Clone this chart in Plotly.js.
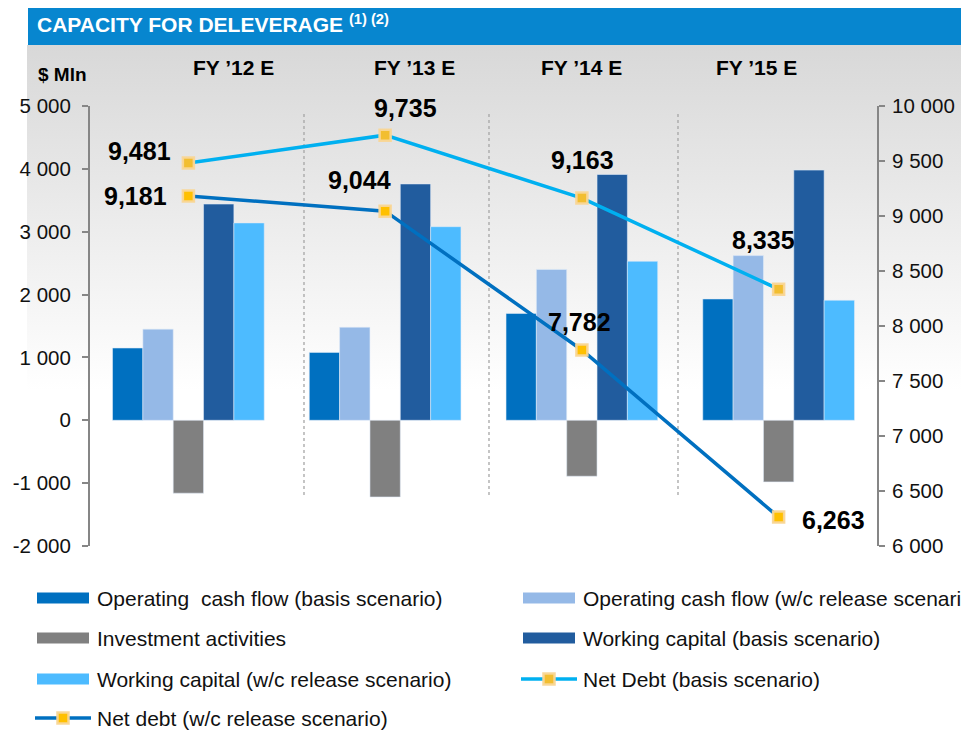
<!DOCTYPE html>
<html><head><meta charset="utf-8">
<script src="https://cdn.plot.ly/plotly-3.0.1.min.js"></script>
<style>html,body{margin:0;padding:0;background:#fff}#chart{width:961px;height:730px}</style>
</head><body><div id="chart"></div>
<script>
// ---------- data ----------
const categories = ['FY ’12 E', 'FY ’13 E', 'FY ’14 E', 'FY ’15 E'];
const opCashBasis = [1150, 1080, 1700, 1930];
const opCashRelease = [1450, 1480, 2400, 2620];
const investment = [-1160, -1220, -890, -980];
const wcBasis = [3440, 3760, 3910, 3980];
const wcRelease = [3140, 3080, 2530, 1910];
const netDebtBasis = [9481, 9735, 9163, 8335];
const netDebtRelease = [9181, 9044, 7782, 6263];
const leftTicks = [-2000, -1000, 0, 1000, 2000, 3000, 4000, 5000];
const rightTicks = [6000, 6500, 7000, 7500, 8000, 8500, 9000, 9500, 10000];
const seriesNames = [
  'Operating  cash flow (basis scenario)',
  'Operating cash flow (w/c release scenario)',
  'Investment activities',
  'Working capital (basis scenario)',
  'Working capital (w/c release scenario)',
  'Net Debt (basis scenario)',
  'Net debt (w/c release scenario)'
];
const titleText = 'CAPACITY FOR DELEVERAGE';
const titleNote = '(1) (2)';
const unitLabel = '$ Mln';

// ---------- styles / geometry ----------
const FONT = 'Arial, "Liberation Sans", sans-serif';
const colors = ['#0070C0', '#95B9E7', '#808080', '#215C9E', '#4DBBFF', '#00B0F0', '#0070C0'];
const markerFill = ['#F2BE30', '#FFC000'];
const markerEdge = 'rgba(249,214,150,0.95)';
const W = 961, H = 730, L = 90, R = 84, T = 106, B = 184;
const PW = W - L - R, PH = H - T - B;
const px = x => (x - L) / PW;
const py = y => (H - B - y) / PH;

const fmtSpace = v => (v < 0 ? '-' : '') + Math.abs(v).toString().replace(/\B(?=(\d{3})+(?!\d))/g, ' ');
const fmtComma = v => v.toString().replace(/\B(?=(\d{3})+(?!\d))/g, ',');

const barSeries = [opCashBasis, opCashRelease, investment, wcBasis, wcRelease];
const traces = barSeries.map((vals, i) => ({
  type: 'bar', x: categories, y: vals, name: seriesNames[i],
  marker: {color: colors[i], line: {color: 'rgba(225,235,248,0.7)', width: 0.8}},
  showlegend: false, hoverinfo: 'skip'
}));
[netDebtBasis, netDebtRelease].forEach((vals, i) => {
  traces.push({
    type: 'scatter', mode: 'lines+markers', x: categories, y: vals, yaxis: 'y2',
    name: seriesNames[5 + i],
    line: {color: colors[5 + i], width: 3.5},
    marker: {symbol: 'square', size: 11, color: markerFill[i], line: {color: markerEdge, width: 2.5}},
    showlegend: false, hoverinfo: 'skip'
  });
});

// data label offsets (px) relative to markers
const basisOffsets = [[-49, 12], [20, 27], [1, 38], [-15, 49]];
const releaseOffsets = [[-53, 0], [-26, 31], [-2, 28], [55, -3]];
const annotations = [];
netDebtBasis.forEach((v, i) => annotations.push({
  xref: 'x', yref: 'y2', x: categories[i], y: v, text: '<b>' + fmtComma(v) + '</b>', showarrow: false,
  xshift: basisOffsets[i][0], yshift: basisOffsets[i][1], font: {family: FONT, size: 25, color: '#000'}
}));
netDebtRelease.forEach((v, i) => annotations.push({
  xref: 'x', yref: 'y2', x: categories[i], y: v, text: '<b>' + fmtComma(v) + '</b>', showarrow: false,
  xshift: releaseOffsets[i][0], yshift: releaseOffsets[i][1], font: {family: FONT, size: 25, color: '#000'}
}));
// top category labels
const catLabelX = [233, 414, 581, 756];
categories.forEach((c, i) => annotations.push({
  xref: 'paper', yref: 'paper', x: px(catLabelX[i]), y: py(68), xanchor: 'center', yanchor: 'middle',
  text: '<b>' + c + '</b>', showarrow: false, font: {family: FONT, size: 21, color: '#000'}
}));
annotations.push({
  xref: 'paper', yref: 'paper', x: px(36), y: py(75), xanchor: 'left', yanchor: 'middle',
  text: '<b>' + unitLabel + '</b>', showarrow: false, font: {family: FONT, size: 19, color: '#000'}
});

// ---------- shapes ----------
const shapes = [];
shapes.push({type: 'rect', xref: 'paper', yref: 'paper', x0: px(28), x1: px(961), y0: py(45), y1: py(8),
  fillcolor: '#0786CF', line: {width: 0}, layer: 'below'});
[304, 489, 678].forEach(x => shapes.push({type: 'line', xref: 'paper', yref: 'paper',
  x0: px(x), x1: px(x), y0: py(114), y1: py(497), line: {color: '#A6A6A6', width: 1.3, dash: 'dot'}, layer: 'below'}));

// custom legend
const legendPos = [
  {col: 0, row: 0}, {col: 1, row: 0}, {col: 0, row: 1}, {col: 1, row: 1},
  {col: 0, row: 2}, {col: 1, row: 2}, {col: 0, row: 3}
];
const colSymX = [37, 523], colTextX = [95, 581], rowY = [598, 638, 679, 718];
seriesNames.forEach((name, i) => {
  const p = legendPos[i];
  const y = rowY[p.row];
  if (i < 5) {
    shapes.push({type: 'rect', xref: 'paper', yref: 'paper', x0: px(colSymX[p.col]), x1: px(colSymX[p.col] + 52),
      y0: py(y + 5.5), y1: py(y - 5.5), fillcolor: colors[i], line: {width: 0}});
  } else {
    const x0 = colSymX[p.col] - 2, x1 = colSymX[p.col] + 54, xm = (x0 + x1) / 2;
    shapes.push({type: 'line', xref: 'paper', yref: 'paper', x0: px(x0), x1: px(x1), y0: py(y), y1: py(y),
      line: {color: colors[i], width: 3.5}});
    shapes.push({type: 'rect', xref: 'paper', yref: 'paper', x0: px(xm - 5.5), x1: px(xm + 5.5), y0: py(y + 5.5), y1: py(y - 5.5),
      fillcolor: markerFill[i - 5], line: {color: markerEdge, width: 2.5}});
  }
  annotations.push({xref: 'paper', yref: 'paper', x: px(colTextX[p.col]), y: py(y), xanchor: 'left', yanchor: 'middle',
    text: name, showarrow: false, font: {family: FONT, size: 21, color: '#111'}});
});

// gradient background image
const gradSvg = '<svg xmlns="http://www.w3.org/2000/svg" viewBox="0 0 10 10" preserveAspectRatio="none" width="10" height="10">' +
  '<defs><linearGradient id="g" x1="0" y1="0" x2="0" y2="1"><stop offset="0" stop-color="#D8D8D8"/><stop offset="1" stop-color="#FFFFFF"/></linearGradient></defs>' +
  '<rect x="0" y="0" width="10" height="10" fill="url(#g)"/></svg>';
const images = [{
  source: 'data:image/svg+xml;charset=utf-8,' + encodeURIComponent(gradSvg),
  xref: 'paper', yref: 'paper', x: px(27), y: py(45), sizex: (W - 27) / PW, sizey: (390 - 45) / PH,
  xanchor: 'left', yanchor: 'top', sizing: 'stretch', layer: 'below'
}];

const axisCommon = {
  showline: true, linecolor: '#868686', linewidth: 2, ticks: 'outside', ticklen: 6, tickcolor: '#868686', tickwidth: 2,
  showgrid: false, zeroline: false, tickfont: {family: FONT, size: 20.5, color: '#111'}, fixedrange: true
};

const layout = {
  width: W, height: H,
  margin: {l: L, r: R, t: T, b: B, pad: 0},
  paper_bgcolor: '#FFFFFF', plot_bgcolor: 'rgba(0,0,0,0)',
  font: {family: FONT, color: '#111'},
  title: {
    text: '<b>' + titleText + '</b> <sup><b>' + titleNote + '</b></sup>',
    font: {family: FONT, size: 21, color: '#FFFFFF'},
    xref: 'container', yref: 'container', x: 37 / W, y: 1 - 25 / H, xanchor: 'left', yanchor: 'middle'
  },
  barmode: 'group', bargap: 0.229, bargroupgap: 0,
  showlegend: false,
  xaxis: {type: 'category', range: [-0.5, 3.5], showticklabels: false, showline: false, showgrid: false, zeroline: false, ticks: '', fixedrange: true},
  yaxis: Object.assign({}, axisCommon, {range: [-2000, 5000], tickvals: leftTicks, ticktext: leftTicks.map(fmtSpace), side: 'left', ticklabelstandoff: 7}),
  yaxis2: Object.assign({}, axisCommon, {range: [6000, 10000], tickvals: rightTicks, ticktext: rightTicks.map(fmtSpace), side: 'right', overlaying: 'y', ticklabelstandoff: 3}),
  shapes: shapes, annotations: annotations, images: images
};

Plotly.newPlot('chart', traces, layout, {displayModeBar: false, staticPlot: true});
</script>
</body></html>
